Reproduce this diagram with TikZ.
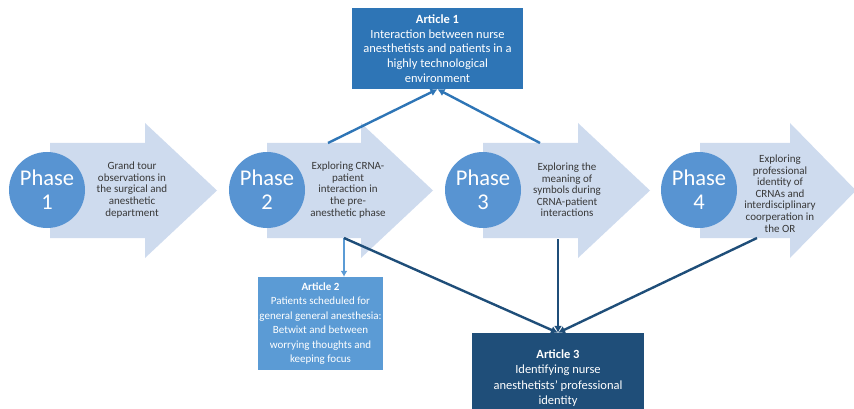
\documentclass[tikz,border=0pt]{standalone}
\usepackage{fontspec}
\setmainfont{Carlito}
\usetikzlibrary{arrows.meta}
\definecolor{chevron}{RGB}{206,219,238}
\definecolor{dotblue}{RGB}{88,148,210}
\definecolor{textgray}{RGB}{56,56,56}
\definecolor{artone}{RGB}{46,117,182}
\definecolor{arttwo}{RGB}{91,155,213}
\definecolor{artthree}{RGB}{31,78,121}
% body from x=#1 to the head base, head of length #3 ending in a tip at x=#2
\newcommand\phasearrow[3]{%
  \fill[chevron] (#1,143) -- ({#2-#3},143) -- ({#2-#3},123) -- (#2,190.5)
    -- ({#2-#3},258) -- ({#2-#3},238) -- (#1,238) -- cycle;}
\begin{document}
\begin{tikzpicture}[x=1pt,y=-1pt,
  phasedot/.style={circle,fill=dotblue,minimum size=76pt,inner sep=0pt,
    text=white,align=center,font=\fontsize{22.5}{24}\selectfont},
  phasetext/.style={text=textgray,align=center,inner sep=0pt,
    font=\fontsize{11}{11.6}\selectfont},
  article/.style={rectangle,inner sep=0pt,text=white,align=center},
  linkone/.style={draw=artone,line width=2.4pt,-{Latex[length=7pt,width=8pt]}},
  linktwo/.style={draw=arttwo,line width=2pt,-{Latex[length=6pt,width=7pt]}},
  linkthree/.style={draw=artthree,line width=2.4pt,-{Latex[length=7pt,width=8pt]}}]
\useasboundingbox (0,0) rectangle (854,409);

% the four phase chevrons
\phasearrow{50}{217}{72}
\phasearrow{267}{433}{72}
\phasearrow{483}{650}{72}
\phasearrow{700}{856}{66}

% phase discs
\node[phasedot] (ph1) at (47,190) {Phase\\1};
\node[phasedot] (ph2) at (267,190) {Phase\\2};
\node[phasedot] (ph3) at (483,190) {Phase\\3};
\node[phasedot] (ph4) at (699,190) {Phase\\4};

% phase descriptions
\node[phasetext] (t1) at (132,190) {Grand tour\\observations in\\the surgical and\\anesthetic\\department};
\node[phasetext] (t2) at (348,190) {Exploring CRNA-\\patient\\interaction in\\the pre-\\anesthetic phase};
\node[phasetext] (t3) at (567,190) {Exploring the\\meaning of\\symbols during\\CRNA-patient\\interactions};
\node[phasetext] (t4) at (780,193.5) {Exploring\\professional\\identity of\\CRNAs and\\interdisciplinary\\coorperation in\\the OR};

% articles
\node[article,fill=artone,minimum width=171pt,minimum height=81pt,
  font=\fontsize{12.5}{14.6}\selectfont] (a1) at (437.5,48.5)
  {\textbf{Article 1}\\Interaction between nurse\\anesthetists and patients in a\\highly technological\\environment};
\node[article,fill=arttwo,minimum width=125pt,minimum height=93pt,
  font=\fontsize{11}{14.4}\selectfont] (a2) at (320.5,323.5)
  {\textbf{Article 2}\\Patients scheduled for\\general general anesthesia:\\Betwixt and between\\worrying thoughts and\\keeping focus};
\node[article,fill=artthree,minimum width=172pt,minimum height=90pt,
  font=\fontsize{12.5}{15.3}\selectfont] (a3) at (558,378)
  {\textbf{Article 3}\\Identifying nurse\\anesthetists’ professional\\identity};

% attachment points on the chevrons
\coordinate (p2top) at (328,143);
\coordinate (p3top) at (540,143);
\coordinate (p2bot) at (344,238);
\coordinate (p3bot) at (558,239);
\coordinate (p4bot) at (757,238);

% links from phases to articles
\draw[linkone] (p2top) -- (a1.south);
\draw[linkone] (p3top) -- (a1.south);
\draw[linktwo] (p2bot) -- (p2bot |- a2.north);
\draw[linkthree] (p2bot) -- (a3.north);
\draw[linkthree] (p3bot) -- (a3.north);
\draw[linkthree] (p4bot) -- (a3.north);
\end{tikzpicture}
\end{document}
